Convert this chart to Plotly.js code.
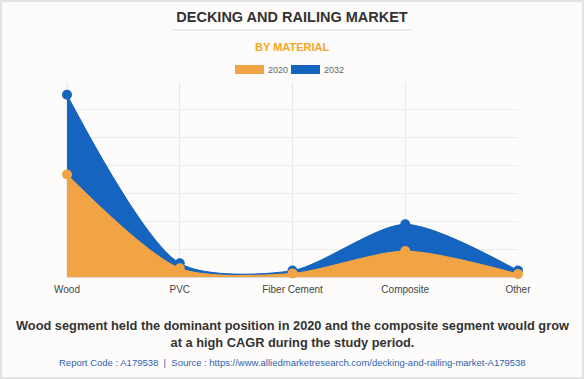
<!DOCTYPE html>
<html>
<head>
<meta charset="utf-8">
<script src="https://cdn.plot.ly/plotly-3.0.1.min.js"></script>
<style>
html,body{margin:0;padding:0;background:#fdfcfa;}
#wrap{position:relative;width:584px;height:379px;}
#chart{width:584px;height:379px;}
#frame{position:absolute;left:0;top:0;width:584px;height:379px;box-sizing:border-box;border:2px solid #e3e3e3;pointer-events:none;}
</style>
</head>
<body>
<div id="wrap"><div id="chart"></div><div id="frame"></div></div>
<script>
// Data (USD million)
const categories = ["Wood", "PVC", "Fiber Cement", "Composite", "Other"];
const values2020 = [3680, 310, 130, 930, 110];
const values2032 = [6540, 490, 230, 1890, 230];
const seriesNames = ["2020", "2032"];
const chartTitle = "DECKING AND RAILING MARKET";
const chartSubtitle = "BY MATERIAL";
const footnote = "Wood segment held the dominant position in 2020 and the composite segment would grow<br>at a high CAGR during the study period.";
const sourceText = "Report Code : A179538  |  Source : https://www.alliedmarketresearch.com/decking-and-railing-market-A179538";

const orange = "#F2A444";
const blue = "#1565C0";

const W = 584, H = 379;
const mL = 67, mR = 66, mT = 82, mB = 102;
const pw = W - mL - mR, ph = H - mT - mB;
const px = x => (x - mL) / pw;
const py = y => (H - mB - y) / ph;

const traces = [
  {x: categories, y: values2032, name: seriesNames[1], type: "scatter", mode: "lines+markers",
   fill: "tozeroy", fillcolor: blue, line: {color: blue, shape: "spline", smoothing: 0.75, width: 1},
   marker: {color: blue, size: 10}, cliponaxis: false, showlegend: false, hoverinfo: "x+y"},
  {x: categories, y: values2020, name: seriesNames[0], type: "scatter", mode: "lines+markers",
   fill: "tozeroy", fillcolor: orange, line: {color: orange, shape: "spline", smoothing: 0.75, width: 1},
   marker: {color: orange, size: 10}, cliponaxis: false, showlegend: false, hoverinfo: "x+y"}
];

const font = "Liberation Sans, Arial, sans-serif";

const layout = {
  width: W, height: H,
  margin: {l: mL, r: mR, t: mT, b: mB},
  paper_bgcolor: "#fdfcfa",
  plot_bgcolor: "#fdfcfa",
  font: {family: font, color: "#444"},
  showlegend: false,
  title: {text: "<b>" + chartTitle + "</b>", x: 0.5, xanchor: "center", y: 1 - 17 / H, yanchor: "middle",
          yref: "container", font: {family: font, size: 14.5, color: "#333"}},
  xaxis: {type: "category", range: [0, categories.length - 1], showgrid: true, gridcolor: "#e8e8e8",
          zeroline: false, showline: false, ticks: "", ticklabelstandoff: 5,
          tickfont: {size: 10, color: "#444"}, fixedrange: true},
  yaxis: {range: [0, 7000], dtick: 1000, showgrid: true, gridcolor: "#ececec", showticklabels: false,
          zeroline: true, zerolinecolor: "#d8d8d8", showline: false, ticks: "", fixedrange: true},
  shapes: [
    {type: "line", xref: "paper", yref: "paper", x0: px(172), x1: px(412), y0: py(30), y1: py(30),
     line: {color: "#dddddd", width: 1}},
    {type: "rect", xref: "paper", yref: "paper", x0: px(235), x1: px(264), y0: py(74), y1: py(65),
     fillcolor: orange, line: {width: 0}},
    {type: "rect", xref: "paper", yref: "paper", x0: px(291), x1: px(320), y0: py(74), y1: py(65),
     fillcolor: blue, line: {width: 0}},
    {type: "line", xref: "paper", yref: "paper", x0: 0, x1: 0, y0: 0, y1: 1,
     line: {color: "#e0e0e0", width: 1}, layer: "below"}
  ],
  annotations: [
    {text: "<b>" + chartSubtitle + "</b>", xref: "paper", yref: "paper", x: px(292), y: py(47),
     xanchor: "center", yanchor: "middle", showarrow: false, font: {family: font, size: 11, color: "#F5A623"}},
    {text: seriesNames[0], xref: "paper", yref: "paper", x: px(266), y: py(70), xanchor: "left", yanchor: "middle",
     showarrow: false, font: {family: font, size: 9, color: "#666"}},
    {text: seriesNames[1], xref: "paper", yref: "paper", x: px(322), y: py(70), xanchor: "left", yanchor: "middle",
     showarrow: false, font: {family: font, size: 9, color: "#666"}},
    {text: "<b>" + footnote + "</b>", xref: "paper", yref: "paper", x: px(292), y: py(334), xanchor: "center",
     yanchor: "middle", showarrow: false, align: "center", font: {family: font, size: 12.8, color: "#333"}},
    {text: sourceText, xref: "paper", yref: "paper", x: px(292), y: py(362), xanchor: "center", yanchor: "middle",
     showarrow: false, font: {family: font, size: 9.5, color: "#2f62b3"}}
  ]
};

Plotly.newPlot("chart", traces, layout, {displayModeBar: false, staticPlot: true});
</script>
</body>
</html>
